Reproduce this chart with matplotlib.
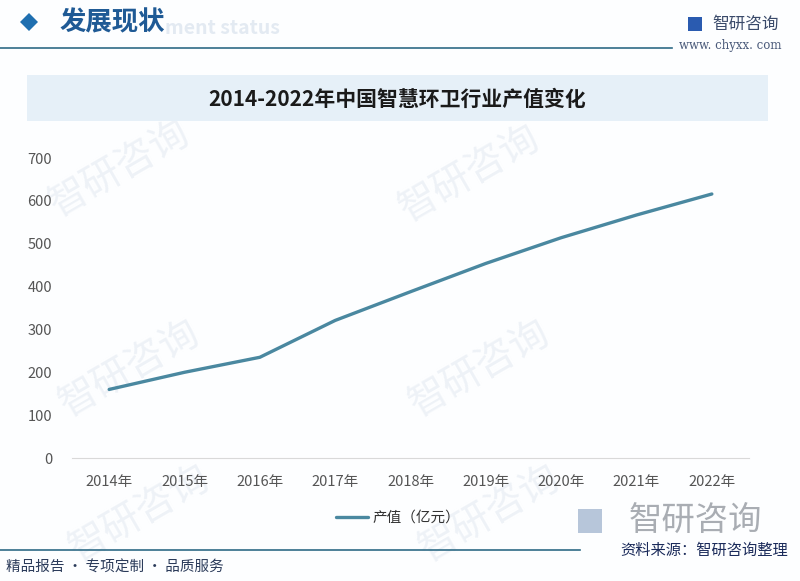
import matplotlib
matplotlib.use("Agg")
import matplotlib.pyplot as plt
from matplotlib.patches import Rectangle, Polygon
from matplotlib.lines import Line2D

plt.rcParams['font.family'] = ['Noto Sans CJK SC', 'DejaVu Sans']

years = ["2014年", "2015年", "2016年", "2017年", "2018年", "2019年", "2020年", "2021年", "2022年"]
values = [160, 200, 235, 321, 388, 454, 514, 567, 616]
series_name = "产值（亿元）"
yticks = [0, 100, 200, 300, 400, 500, 600, 700]
title = "2014-2022年中国智慧环卫行业产值变化"

W, H = 800, 581
fig = plt.figure(figsize=(W / 100, H / 100), dpi=100)
fig.patch.set_facecolor("#fdfeff")

def fx(px):
    return px / W

def fy(py):
    return 1 - py / H

# background layer for watermarks
bg = fig.add_axes([0, 0, 1, 1], zorder=-5)
bg.set_xlim(0, W)
bg.set_ylim(H, 0)
bg.axis("off")
wm_positions = [(120, 170), (470, 175), (130, 370), (480, 370), (140, 515), (490, 515)]
for (x, y) in wm_positions:
    bg.text(x, y, "智研咨询", fontsize=28, color="#eef2f7", rotation=30,
            ha="center", va="center")

# header
fig.patches.append(Polygon([[fx(20), fy(22)], [fx(29), fy(13)], [fx(38), fy(22)], [fx(29), fy(31)]],
                           closed=True, transform=fig.transFigure, facecolor="#1f6fb0", edgecolor="none"))
fig.text(fx(60), fy(23), "发展现状", fontsize=19, color="#1f5a95", fontweight="bold", ha="left", va="center")
fig.text(fx(165), fy(29), "ment status", fontsize=14, color="#e3eaf2", fontweight="bold", ha="left", va="center", zorder=0)
fig.add_artist(Line2D([0, fx(672)], [fy(48), fy(48)], color="#2f6b86", lw=1.2))
fig.text(fx(712), fy(24), "智研咨询", fontsize=12, color="#3a4a6a", ha="left", va="center")
fig.patches.append(Rectangle((fx(688), fy(31)), 14 / W, 14 / H, transform=fig.transFigure,
                             facecolor="#2a5bb0", edgecolor="none"))
fig.text(fx(730), fy(45), "www. chyxx. com", fontsize=8.5, color="#4a5a7a", ha="center", va="center",
         family=["DejaVu Serif"])

# title banner
fig.patches.append(Rectangle((fx(27), fy(121)), (768 - 27) / W, (121 - 75) / H, transform=fig.transFigure,
                             facecolor="#e6f0f8", edgecolor="none"))
fig.text(fx(397), fy(99), title, fontsize=15, color="#1a1a1a", fontweight="bold", ha="center", va="center")

# axes
ax = fig.add_axes([fx(71.5), fy(458), (749.5 - 71.5) / W, (458 - 158) / H], zorder=2)
ax.set_facecolor("none")
x = list(range(len(years)))
ax.plot(x, values, color="#4a88a0", lw=2.4, solid_capstyle="round", label=series_name)
ax.set_xlim(-0.5, len(years) - 0.5)
ax.set_ylim(0, 700)
ax.set_yticks(yticks)
ax.set_xticks(x)
ax.set_xticklabels(years)
for s in ["top", "right", "left"]:
    ax.spines[s].set_visible(False)
ax.spines["bottom"].set_color("#d9d9d9")
ax.tick_params(axis="both", length=0, labelsize=10.5, colors="#555555")
ax.tick_params(axis="x", pad=12)
ax.tick_params(axis="y", pad=14)

leg = fig.legend(loc="center", bbox_to_anchor=(fx(398), fy(518)), frameon=False, fontsize=10.5,
                 handlelength=2.2, handletextpad=0.3)
for t in leg.get_texts():
    t.set_color("#333333")

# footer
fig.add_artist(Line2D([0, fx(580)], [fy(550), fy(550)], color="#2f6b86", lw=1.2))
fig.text(fx(6), fy(568), "精品报告 · 专项定制 · 品质服务", fontsize=10.5, color="#2b3b5a", ha="left", va="center")
fig.text(fx(695), fy(520), "智研咨询", fontsize=24, color="#a9adb3", ha="center", va="center")
fig.patches.append(Rectangle((fx(578), fy(533)), 24 / W, 24 / H, transform=fig.transFigure,
                             facecolor="#b7c6da", edgecolor="none"))
fig.text(fx(788), fy(550), "资料来源：智研咨询整理", fontsize=11, color="#1a2a5a", ha="right", va="center")

fig.savefig("out.png", dpi=100, facecolor=fig.get_facecolor())
